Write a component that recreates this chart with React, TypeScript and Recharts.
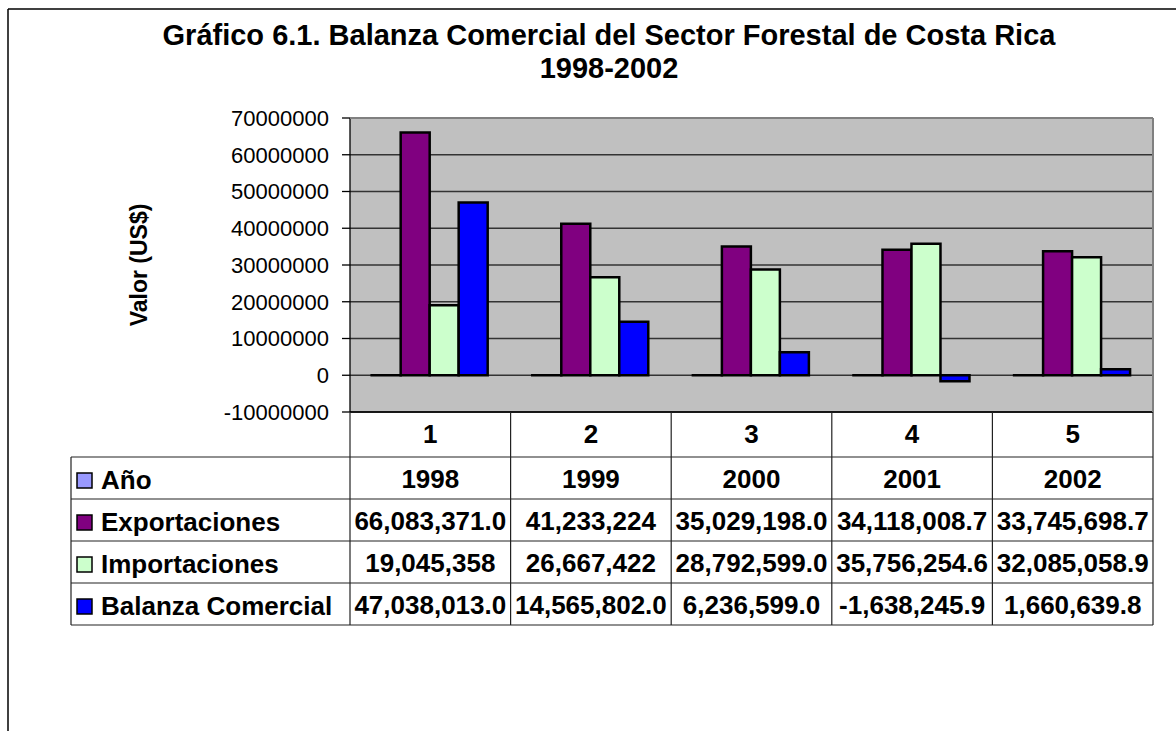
import React from 'react';
import { BarChart, Bar, XAxis, YAxis, CartesianGrid } from 'recharts';

const categories = ['1', '2', '3', '4', '5'];
const years = [1998, 1999, 2000, 2001, 2002];
const exportaciones = [66083371.0, 41233224, 35029198.0, 34118008.7, 33745698.7];
const importaciones = [19045358, 26667422, 28792599.0, 35756254.6, 32085058.9];
const balanza = [47038013.0, 14565802.0, 6236599.0, -1638245.9, 1660639.8];
const yTicks = [-10000000, 0, 10000000, 20000000, 30000000, 40000000, 50000000, 60000000, 70000000];

const yearLabels = ['1998', '1999', '2000', '2001', '2002'];
const exportLabels = ['66,083,371.0', '41,233,224', '35,029,198.0', '34,118,008.7', '33,745,698.7'];
const importLabels = ['19,045,358', '26,667,422', '28,792,599.0', '35,756,254.6', '32,085,058.9'];
const balanzaLabels = ['47,038,013.0', '14,565,802.0', '6,236,599.0', '-1,638,245.9', '1,660,639.8'];

const seriesNames = ['Año', 'Exportaciones', 'Importaciones', 'Balanza Comercial'];
const seriesColors = ['#9999FF', '#800080', '#CCFFCC', '#0000FF'];

const data = categories.map((c, i) => ({
  cat: c,
  anio: years[i],
  exp: exportaciones[i],
  imp: importaciones[i],
  bal: balanza[i],
}));

const tableRows = [yearLabels, exportLabels, importLabels, balanzaLabels];

const W = 1176;
const H = 731;
const PL = 350;
const PR = 1153;
const PT = 118;
const PB = 412;
const HEADER_B = 457;
const ROW_H = 42;
const TABLE_L = 71;
const FONT = '"Liberation Sans", Arial, sans-serif';

export default function App() {
  const colW = (PR - PL) / categories.length;
  const tableBottom = HEADER_B + ROW_H * tableRows.length;
  return (
    <div style={{ position: 'absolute', left: 0, top: 0, width: W, height: H, background: '#fff', fontFamily: FONT }}>
      <BarChart
        width={W}
        height={H}
        data={data}
        margin={{ top: PT, right: W - PR, bottom: H - PB - 45, left: PL - 110 }}
        barCategoryGap="13.5%"
        barGap={0}
      >
        <CartesianGrid vertical={false} stroke="#333" strokeWidth={1.4} fill="#C0C0C0" fillOpacity={1} />
        <XAxis
          dataKey="cat"
          height={45}
          tickLine={false}
          tickSize={0}
          tickMargin={13}
          axisLine={{ stroke: '#000', strokeWidth: 1.3 }}
          tick={{ fontSize: 26, fontWeight: 700, fill: '#000', fontFamily: FONT }}
          interval={0}
        />
        <YAxis
          width={110}
          domain={[-10000000, 70000000]}
          ticks={yTicks}
          interval={0}
          allowDataOverflow
          tickSize={8}
          tickMargin={13}
          axisLine={{ stroke: '#000', strokeWidth: 1.3 }}
          tickLine={{ stroke: '#000', strokeWidth: 1.3 }}
          tick={{ fontSize: 22, fill: '#000', fontFamily: FONT }}
        />
        <Bar dataKey="anio" fill={seriesColors[0]} stroke="#000" strokeWidth={2.5} isAnimationActive={false} />
        <Bar dataKey="exp" fill={seriesColors[1]} stroke="#000" strokeWidth={2.5} isAnimationActive={false} />
        <Bar dataKey="imp" fill={seriesColors[2]} stroke="#000" strokeWidth={2.5} isAnimationActive={false} />
        <Bar dataKey="bal" fill={seriesColors[3]} stroke="#000" strokeWidth={2.5} isAnimationActive={false} />
      </BarChart>
      <svg
        width={W}
        height={H}
        style={{ position: 'absolute', left: 0, top: 0, pointerEvents: 'none' }}
        fontFamily={FONT}
      >
        {/* outer chart frame */}
        <line x1={8} y1={9} x2={W} y2={9} stroke="#000" strokeWidth={1.5} />
        <line x1={8} y1={9} x2={8} y2={H} stroke="#000" strokeWidth={1.5} />
        {/* title */}
        <text x={609} y={45} textAnchor="middle" fontSize={29} fontWeight={700} fill="#000">
          Gráfico 6.1. Balanza Comercial del Sector Forestal de Costa Rica
        </text>
        <text x={609} y={78} textAnchor="middle" fontSize={29} fontWeight={700} fill="#000">
          1998-2002
        </text>
        {/* y label */}
        <text
          x={0}
          y={0}
          transform={`translate(147, 265) rotate(-90)`}
          textAnchor="middle"
          fontSize={23}
          fontWeight={700}
          fill="#000"
        >
          Valor (US$)
        </text>
        {/* plot area border top/right */}
        <line x1={PL} y1={PT} x2={PR} y2={PT} stroke="#808080" strokeWidth={2} />
        <line x1={PR} y1={PT} x2={PR} y2={PB} stroke="#808080" strokeWidth={2} />
        {/* data table lines */}
        {categories.map((_, i) => (
          <line key={'v' + i} x1={PL + colW * (i + 1)} y1={PB} x2={PL + colW * (i + 1)} y2={tableBottom} stroke="#222" strokeWidth={1.2} />
        ))}
        <line x1={PL} y1={PB} x2={PL} y2={tableBottom} stroke="#222" strokeWidth={1.2} />
        <line x1={TABLE_L} y1={HEADER_B} x2={TABLE_L} y2={tableBottom} stroke="#222" strokeWidth={1.2} />
        {tableRows.map((_, r) => (
          <line key={'h' + r} x1={TABLE_L} y1={HEADER_B + ROW_H * r} x2={PR} y2={HEADER_B + ROW_H * r} stroke="#222" strokeWidth={1.2} />
        ))}
        <line x1={TABLE_L} y1={tableBottom} x2={PR} y2={tableBottom} stroke="#222" strokeWidth={1.2} />
        {/* table rows */}
        {tableRows.map((row, r) => {
          const top = HEADER_B + ROW_H * r;
          return (
            <g key={'r' + r}>
              <rect x={77} y={top + 16} width={15} height={15} fill={seriesColors[r]} stroke="#000" strokeWidth={1.5} />
              <text x={101} y={top + 32} fontSize={26} fontWeight={700} fill="#000">
                {seriesNames[r]}
              </text>
              {row.map((v, c) => (
                <text key={c} x={PL + colW * (c + 0.5)} y={top + 31} textAnchor="middle" fontSize={26} fontWeight={700} fill="#000">
                  {v}
                </text>
              ))}
            </g>
          );
        })}
      </svg>
    </div>
  );
}
